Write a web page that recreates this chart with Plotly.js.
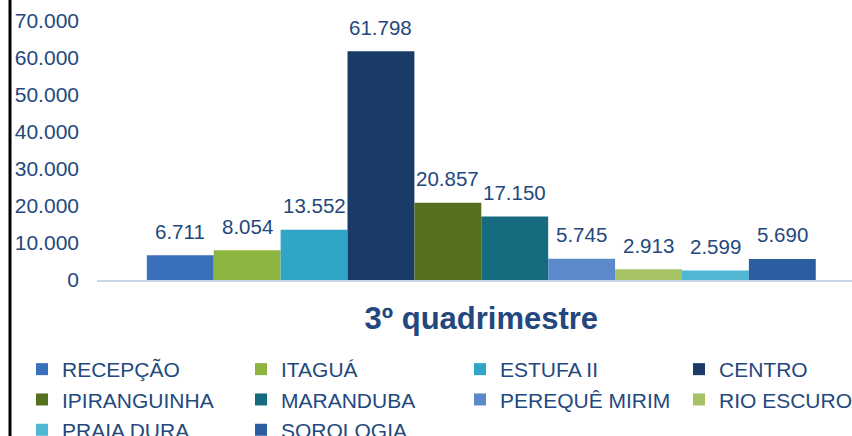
<!DOCTYPE html>
<html>
<head>
<meta charset="utf-8">
<script src="https://cdn.plot.ly/plotly-3.0.1.min.js"></script>
<style>
html,body{margin:0;padding:0;background:#fff;}
#chart{width:852px;height:436px;}
</style>
</head>
<body>
<div id="chart"></div>
<script>
const category = ['3º quadrimestre'];
const seriesNames = ['RECEPÇÃO','ITAGUÁ','ESTUFA II','CENTRO','IPIRANGUINHA','MARANDUBA','PEREQUÊ MIRIM','RIO ESCURO','PRAIA DURA','SOROLOGIA'];
const seriesValues = [6711, 8054, 13552, 61798, 20857, 17150, 5745, 2913, 2599, 5690];
const seriesColors = ['#3870BA','#8EB440','#30A5C6','#1A3A68','#55701F','#176B7E','#5B89C9','#A5C264','#4FB7D3','#2B5DA0'];
const yTickVals = [0,10000,20000,30000,40000,50000,60000,70000];
const yTickText = ['0','10.000','20.000','30.000','40.000','50.000','60.000','70.000'];

const textColor = '#24487D';
const fontFam = 'Arial, "Liberation Sans", sans-serif';
const BARGAP = 0.114;
const N = seriesNames.length;
const legendIds = ['legend','legend2','legend3','legend4'];

function fmt(v){ return v.toLocaleString('de-DE'); }

const traces = seriesNames.map((name,i)=>({
  type:'bar',
  name:name,
  x:category,
  y:[seriesValues[i]],
  marker:{color:seriesColors[i], line:{width:0}},
  legend:legendIds[i % 4],
  cliponaxis:false,
  hoverinfo:'name+y'
}));

// value labels above each bar (group slot derived from series index)
const groupW = 1 - BARGAP;
const annotations = seriesValues.map((v,i)=>({
  xref:'x', yref:'y',
  x: -groupW/2 + groupW/N*(i+0.5),
  y: v,
  text: fmt(v),
  showarrow:false,
  yanchor:'middle', xanchor:'center',
  yshift:24,
  font:{family:fontFam,size:20.5,color:textColor}
}));

const L = 97, W = 852, plotW = W - L, plotH = 259;
const legendCommon = (px)=>({
  orientation:'v',
  x:(px-L)/plotW, xanchor:'left',
  y:(280-349)/plotH, yanchor:'top',
  font:{family:fontFam,size:21,color:textColor},
  bgcolor:'rgba(0,0,0,0)',
  traceorder:'normal',
  itemclick:false, itemdoubleclick:false,
  tracegroupgap:0
});

const layout = {
  width:852, height:436,
  margin:{l:L, r:0, t:21, b:156, autoexpand:false},
  paper_bgcolor:'#fff', plot_bgcolor:'#fff',
  font:{family:fontFam, color:textColor},
  barmode:'group',
  bargap:BARGAP,
  bargroupgap:0,
  showlegend:true,
  xaxis:{
    type:'category',
    range:[-0.509,0.491],
    showline:true, linecolor:'#C8D7EA', linewidth:2,
    showgrid:false, zeroline:false, ticks:'',
    tickfont:{family:fontFam,size:31,color:textColor,weight:'bold'},
    ticklabelstandoff:10,
    fixedrange:true
  },
  yaxis:{
    range:[0,70000],
    tickvals:yTickVals, ticktext:yTickText,
    showgrid:false, zeroline:false, showline:false, ticks:'',
    tickfont:{family:fontFam,size:21,color:textColor},
    ticklabelstandoff:17,
    fixedrange:true
  },
  legend:legendCommon(22),
  legend2:legendCommon(241),
  legend3:legendCommon(460),
  legend4:legendCommon(679),
  annotations:annotations,
  shapes:[{
    type:'line', xref:'paper', yref:'paper',
    x0:(10-L)/plotW, x1:(10-L)/plotW, y0:-1, y1:2,
    line:{color:'#000', width:3}
  }]
};

Plotly.newPlot('chart', traces, layout, {displayModeBar:false, staticPlot:true});
</script>
</body>
</html>
